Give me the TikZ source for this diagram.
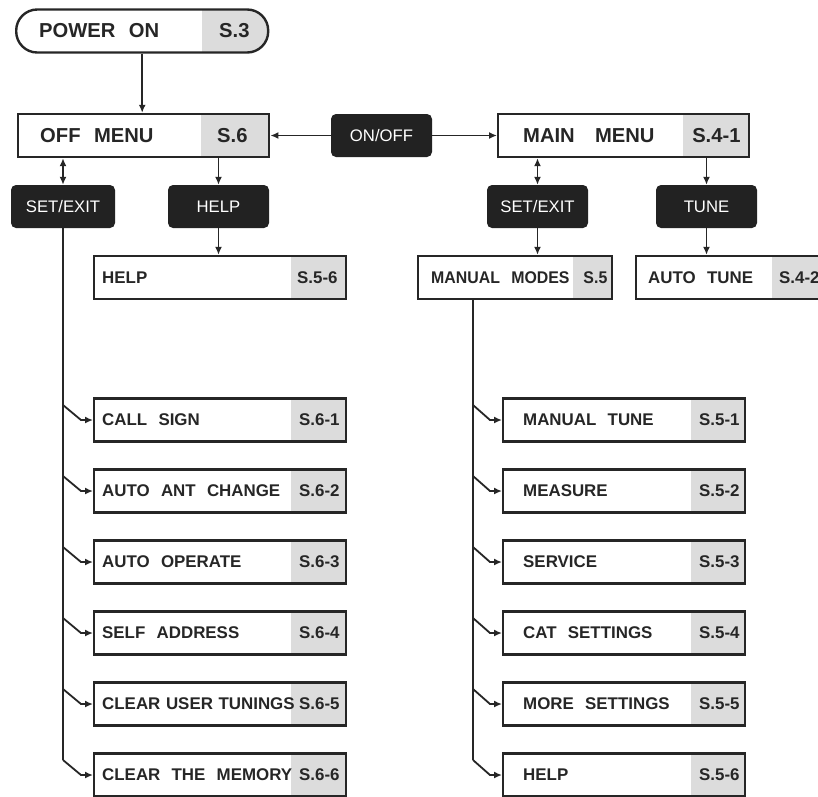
\documentclass[tikz,border=0pt]{standalone}
\usepackage{fontspec}
\setmainfont{Liberation Sans}
\newfontfamily\narrowsans[FakeStretch=0.94]{Liberation Sans}
\usetikzlibrary{arrows.meta, calc}
\definecolor{ink}{HTML}{262626}
\definecolor{tagGray}{HTML}{DCDCDC}
\definecolor{keyBlack}{HTML}{222222}
\newcommand{\boxfont}{\fontsize{16.9}{19}\selectfont\bfseries}
\newcommand{\menufont}{\fontsize{20.2}{23}\selectfont\bfseries}
\newcommand{\keyfont}{\fontsize{16.7}{19}\selectfont}

\tikzset{
  menubox/.style={draw=ink, line width=2.4pt, minimum height=43pt, inner ysep=0pt,
    anchor=west, align=left, text=ink, font=\boxfont,
    path picture={\fill[tagGray, sharp corners] ([xshift=-#1]path picture bounding box.north east)
      rectangle (path picture bounding box.south east);}},
  menubox/.default=55pt,
  tagtext/.style={text=ink, font=\boxfont, inner sep=0pt},
  keybox/.style={fill=keyBlack, rounded corners=5pt, minimum width=101pt,
    minimum height=43pt, inner sep=0pt, text=white, font=\keyfont},
  arr/.style={draw=ink, line width=1.8pt, -{Latex[length=8pt,width=7pt]}},
  dblarr/.style={draw=ink, line width=1.8pt,
    {Latex[length=8pt,width=7pt]}-{Latex[length=8pt,width=7pt]}},
  trunk/.style={draw=ink, line width=1.8pt}
}

\begin{document}
\begin{tikzpicture}[x=1pt, y=-1pt]
  \path[use as bounding box] (0,0) rectangle (818,796);
  \clip (0,0) rectangle (818,796);

  % top row
  \node[menubox=66pt, rounded corners=21pt, font=\menufont, text width=206pt, inner xsep=23pt]
    (power) at (15,31) {POWER~~ON};
  \node[tagtext, font=\menufont] (power-tag) at ([xshift=-35pt]power.east) {S.3};
  \node[menubox=68pt, font=\menufont, text width=207pt, inner xsep=22pt]
    (offmenu) at (17,135.5) {OFF~~MENU};
  \node[tagtext, font=\menufont] (offmenu-tag) at ([xshift=-38pt]offmenu.east) {S.6};
  \node[keybox] (onoff) at (381.5,135.5) {ON/OFF};
  \node[menubox=66pt, font=\menufont, text width=201pt, inner xsep=25pt]
    (mainmenu) at (497,135.5) {MAIN~~~MENU};
  \node[tagtext, font=\menufont] (mainmenu-tag) at ([xshift=-34pt]mainmenu.east) {S.4-1};

  \draw[arr] (power.south) -- (power.south |- offmenu.north);
  \draw[arr] (onoff) -- (offmenu);
  \draw[arr] (onoff) -- (mainmenu);

  % keys
  \node[keybox, minimum width=104pt] (setoff) at (63,206.5) {SET/EXIT};
  \node[keybox] (helpkey) at (218.5,206.5) {HELP};
  \node[keybox] (setmain) at (537.5,206.5) {SET/EXIT};
  \node[keybox] (tunekey) at (706.5,206.5) {TUNE};

  \draw[dblarr] (setoff.north |- offmenu.south) -- (setoff.north);
  \draw[arr] (helpkey.north |- offmenu.south) -- (helpkey.north);
  \draw[dblarr] (setmain.north |- mainmenu.south) -- (setmain.north);
  \draw[arr] (tunekey.north |- mainmenu.south) -- (tunekey.north);

  % second level
  \node[menubox=55pt, text width=236pt, inner xsep=8pt] (offhelp) at (93,277.5) {HELP};
  \node[tagtext] (offhelp-tag) at ([xshift=-30pt]offhelp.east) {S.5-6};
  \node[menubox=39pt, font=\narrowsans\fontsize{16.9}{19}\selectfont\bfseries, text width=168pt, inner xsep=13pt]
    (manmodes) at (417,277.5) {MANUAL~~MODES};
  \node[tagtext, font=\narrowsans\fontsize{16.9}{19}\selectfont\bfseries] (manmodes-tag)
    at ([xshift=-18pt]manmodes.east) {S.5};
  \node[menubox=57pt, text width=169pt, inner xsep=12pt] (autotune) at (635,277.5) {AUTO~~TUNE};
  \node[tagtext] (autotune-tag) at ([xshift=-31pt]autotune.east) {S.4-2};

  \draw[arr] (helpkey.south) -- (helpkey.south |- offhelp.north);
  \draw[arr] (setmain.south) -- (setmain.south |- manmodes.north);
  \draw[arr] (tunekey.south) -- (tunekey.south |- autotune.north);

  % off menu items
  \foreach \n/\yy/\txt/\tg in {callsign/420/CALL~~SIGN/S.6-1,
      antchange/491/AUTO~~ANT~~CHANGE/S.6-2, autooper/562/AUTO~~OPERATE/S.6-3,
      selfaddr/633/SELF~~ADDRESS/S.6-4, clruser/704/CLEAR USER TUNINGS/S.6-5,
      clrmem/775/CLEAR~~THE~~MEMORY/S.6-6}{
    \node[menubox=55pt, text width=236pt, inner xsep=8pt] (\n) at (93,\yy) {\txt};
    \node[tagtext] (\n-tag) at ([xshift=-28pt]\n.east) {\tg};
    \draw[arr] ($(setoff.south |- \n.west)+(0,-15)$) -- ([xshift=-12pt]\n.west) -- (\n.west);
  }
  \draw[trunk] (setoff.south) -- ($(setoff.south |- clrmem.west)+(0,-15)$);

  % manual modes items
  \coordinate (trunkR) at ([xshift=56pt]manmodes.south west);
  \foreach \n/\yy/\txt/\tg in {mantune/420/MANUAL~~TUNE/S.5-1,
      measure/491/MEASURE/S.5-2, service/562/SERVICE/S.5-3,
      catset/633/CAT~~SETTINGS/S.5-4, moreset/704/MORE~~SETTINGS/S.5-5,
      manhelp/775/HELP/S.5-6}{
    \node[menubox=54pt, text width=202pt, inner xsep=20pt] (\n) at (502,\yy) {\txt};
    \node[tagtext] (\n-tag) at ([xshift=-27pt]\n.east) {\tg};
    \draw[arr] ($(trunkR |- \n.west)+(0,-15)$) -- ([xshift=-12pt]\n.west) -- (\n.west);
  }
  \draw[trunk] (trunkR) -- ($(trunkR |- manhelp.west)+(0,-15)$);
\end{tikzpicture}
\end{document}
